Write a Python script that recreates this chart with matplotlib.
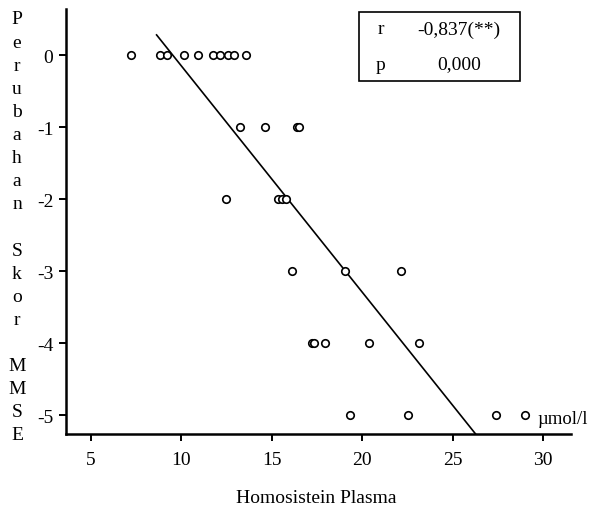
import matplotlib
matplotlib.use("Agg")
import matplotlib.pyplot as plt
import numpy as np

plt.rcParams['font.family'] = ['Liberation Serif', 'DejaVu Serif']

# Data
hcy_0 = [7.21, 8.82, 9.19, 10.15, 10.94, 11.77, 12.14, 12.56, 12.91, 13.56]
hcy_m1 = [13.23, 14.61, 16.38, 16.53]
hcy_m2 = [12.47, 15.37, 15.55, 15.77]
hcy_m3 = [16.14, 19.06, 22.14]
hcy_m4 = [17.21, 17.34, 17.95, 20.37, 23.15]
hcy_m5 = [19.31, 22.56, 27.40, 28.98]
score_levels = [0, -1, -2, -3, -4, -5]

fit_intercept = 2.99
fit_slope = -0.314
fit_x_range = [8.63, 26.31]

x_ticks = [5, 10, 15, 20, 25, 30]
y_ticks = [0, -1, -2, -3, -4, -5]
y_label = "Perubahan Skor MMSE"
x_label = "Homosistein Plasma"
unit_label = "\u00b5mol/l"
stats_rows = [("r", "-0,837(**)"), ("p", "0,000")]

FS = 14
W, H = 590, 510
fig = plt.figure(figsize=(W/100, H/100), dpi=100)
ax = fig.add_axes([66/W, 1-435/H, (571-66)/W, (435-10)/H])

groups = [hcy_0, hcy_m1, hcy_m2, hcy_m3, hcy_m4, hcy_m5]
for xs, lvl in zip(groups, score_levels):
    ax.plot(xs, [lvl]*len(xs), linestyle='none', marker='o', markersize=5.4,
            markerfacecolor='white', markeredgecolor='black', markeredgewidth=1.2,
            clip_on=False, zorder=3)

fx = np.array(fit_x_range)
ax.plot(fx, fit_intercept + fit_slope*fx, color='black', linewidth=1.2, zorder=2)

ax.set_xlim(3.62, 31.55)
ax.set_ylim(-5.26, 0.64)
ax.set_xticks(x_ticks)
ax.set_yticks(y_ticks)
ax.set_yticklabels([str(v) for v in y_ticks])
for s in ['top', 'right']:
    ax.spines[s].set_visible(False)
for s in ['left', 'bottom']:
    ax.spines[s].set_linewidth(1.8)
ax.tick_params(direction='out', length=5, width=1.4, labelsize=FS)
ax.tick_params(axis='x', pad=7.5)
ax.tick_params(axis='y', pad=4)

fig.text(316.5/W, 1-499/H, x_label, ha='center', va='center', fontsize=FS)

# stacked vertical y label: one letter per line, word gaps as blank lines
y0_px, step_px = 20, 23.1
line = 0
for ch in y_label:
    if ch != " ":
        fig.text(17/W, 1-(y0_px + line*step_px)/H, ch, ha='center', va='center', fontsize=FS)
    line += 1

fig.text(537/W, 1-420/H, unit_label, ha='left', va='center', fontsize=13.5)

# stats box
bx0, by0, bx1, by1 = 359/W, 1-82/H, 520/W, 1-13/H
fig.patches.append(plt.Rectangle((bx0, by0), bx1-bx0, by1-by0, transform=fig.transFigure,
                                 fill=False, edgecolor='black', linewidth=1.2))
row_y = [1-30/H, 1-65/H]
for (k, v), yy in zip(stats_rows, row_y):
    fig.text(381/W, yy, k, ha='center', va='center', fontsize=FS)
    fig.text(459/W, yy, v, ha='center', va='center', fontsize=FS)

fig.savefig("out.png", dpi=100)
